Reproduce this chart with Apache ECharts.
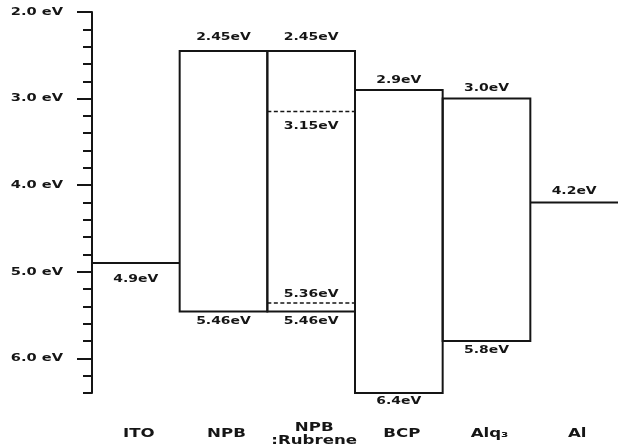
<!DOCTYPE html>
<html>
<head>
<meta charset="utf-8">
<title>Energy level diagram</title>
<script src="https://cdn.jsdelivr.net/npm/echarts@6/dist/echarts.min.js"></script>
<style>
    html, body { margin: 0; padding: 0; background: #fff; }
    #chart { width: 622px; height: 446px; }
</style>
</head>
<body>
<div id="chart"></div>
<script>
// layers, left to right
const materials = ['ITO', 'NPB', 'NPB\n:Rubrene', 'BCP', 'Alq₃', 'Al'];
// LUMO / HOMO of the organic layers (eV)
const lumo = [null, 2.45, 2.45, 2.9, 3.0, null];
const homo = [null, 5.46, 5.46, 6.4, 5.8, null];
// work function of the electrodes (eV)
const workFunction = [4.9, null, null, null, null, 4.2];
// rubrene dopant levels inside the NPB:Rubrene layer (eV)
const dopantLumo = [null, null, 3.15, null, null, null];
const dopantHomo = [null, null, 5.36, null, null, null];
// y axis ticks
const yTickValues = [2.0, 3.0, 4.0, 5.0, 6.0];
const yTickLabels = ['2.0 eV', '3.0 eV', '4.0 eV', '5.0 eV', '6.0 eV'];

// label placement (px from the level line, negative = above)
const lumoGap = [0, -14, -14, -10, -10, 0];
const homoGap = [0, 10, 10, 8, 9, 0];
const workGap = [16, 0, 0, 0, 0, -11];
const dopantLumoGap = 15;
const dopantHomoGap = -9;

const yMin = 2.0, yMax = 6.4;
const ink = '#151515';
const stretch = 1.33; // the original lettering is wide

let chart = echarts.init(document.getElementById('chart'), null, { renderer: 'canvas' });

function fmt(v) {
    return (Number.isInteger(v) ? v.toFixed(1) : String(v)) + 'eV';
}

function valueText(pt, v, dy) {
    return {
        type: 'text',
        x: pt[0],
        y: pt[1] + dy,
        scaleX: stretch,
        style: {
            text: fmt(v),
            fill: ink,
            fontFamily: 'DejaVu Sans',
            fontWeight: 'bold',
            fontSize: 10.5,
            align: 'center',
            verticalAlign: 'middle'
        }
    };
}

function hLine(p1, p2, dashed) {
    return {
        type: 'line',
        shape: { x1: p1[0], y1: p1[1], x2: p2[0], y2: p2[1] },
        style: {
            stroke: ink,
            lineWidth: dashed ? 1.5 : 2,
            lineDash: dashed ? [4, 2.5] : null
        }
    };
}

function renderLevel(params, api) {
    let i = params.dataIndex;
    let children = [];
    let cx = i + 0.5;
    if (lumo[i] != null) {
        let p1 = api.coord([i, lumo[i]]);
        let p2 = api.coord([i + 1, homo[i]]);
        children.push({
            type: 'rect',
            shape: { x: p1[0], y: p1[1], width: p2[0] - p1[0], height: p2[1] - p1[1] },
            style: { stroke: ink, lineWidth: 2, fill: null }
        });
        children.push(valueText(api.coord([cx, lumo[i]]), lumo[i], lumoGap[i]));
        children.push(valueText(api.coord([cx, homo[i]]), homo[i], homoGap[i]));
    }
    if (workFunction[i] != null) {
        children.push(hLine(api.coord([i, workFunction[i]]), api.coord([i + 1, workFunction[i]]), false));
        children.push(valueText(api.coord([cx, workFunction[i]]), workFunction[i], workGap[i]));
    }
    if (dopantLumo[i] != null) {
        children.push(hLine(api.coord([i, dopantLumo[i]]), api.coord([i + 1, dopantLumo[i]]), true));
        children.push(valueText(api.coord([cx, dopantLumo[i]]), dopantLumo[i], dopantLumoGap));
    }
    if (dopantHomo[i] != null) {
        children.push(hLine(api.coord([i, dopantHomo[i]]), api.coord([i + 1, dopantHomo[i]]), true));
        children.push(valueText(api.coord([cx, dopantHomo[i]]), dopantHomo[i], dopantHomoGap));
    }
    return { type: 'group', children: children };
}

function renderMaterialName(params, api) {
    let i = params.dataIndex;
    let pt = api.coord([i + 0.5, yMax]);
    return {
        type: 'text',
        x: pt[0] + 3,
        y: pt[1] + 41,
        scaleX: stretch,
        style: {
            text: materials[i],
            fill: ink,
            fontFamily: 'DejaVu Sans',
            fontWeight: 'bold',
            fontSize: 12.5,
            lineHeight: 13,
            align: 'center',
            verticalAlign: 'middle'
        }
    };
}

function renderTickLabel(params, api) {
    let i = params.dataIndex;
    let pt = api.coord([0, yTickValues[i]]);
    return {
        type: 'text',
        x: pt[0] - 29,
        y: pt[1],
        scaleX: stretch,
        style: {
            text: yTickLabels[i],
            fill: ink,
            fontFamily: 'DejaVu Sans',
            fontWeight: 'bold',
            fontSize: 11,
            align: 'right',
            verticalAlign: 'middle'
        }
    };
}

let option = {
    animation: false,
    backgroundColor: '#fff',
    grid: {
        left: 92,
        right: 4,
        top: 12,
        bottom: 53,
        outerBoundsMode: 'none'
    },
    xAxis: {
        type: 'value',
        min: 0,
        max: materials.length,
        show: false
    },
    yAxis: [
        {
            type: 'value',
            inverse: true,
            min: yMin,
            max: yMax,
            interval: 0.2,
            axisLine: { show: true, lineStyle: { color: ink, width: 2 } },
            axisTick: { show: true, length: 9, lineStyle: { color: ink, width: 2 } },
            axisLabel: { show: false },
            splitLine: { show: false }
        },
        {
            type: 'value',
            position: 'left',
            offset: 0,
            inverse: true,
            min: yMin,
            max: yMax,
            axisLine: { show: false },
            axisTick: { show: true, length: 15, customValues: yTickValues, lineStyle: { color: ink, width: 2 } },
            axisLabel: { show: false },
            splitLine: { show: false }
        }
    ],
    series: [
        {
            type: 'custom',
            name: 'levels',
            clip: false,
            renderItem: renderLevel,
            data: materials.map((m, i) => [i + 0.5, lumo[i] ?? workFunction[i]])
        },
        {
            type: 'custom',
            name: 'materials',
            clip: false,
            renderItem: renderMaterialName,
            data: materials.map((m, i) => [i + 0.5, yMax])
        },
        {
            type: 'custom',
            name: 'ticks',
            clip: false,
            renderItem: renderTickLabel,
            data: yTickValues.map(v => [0, v])
        }
    ]
};

chart.setOption(option);
</script>
</body>
</html>
